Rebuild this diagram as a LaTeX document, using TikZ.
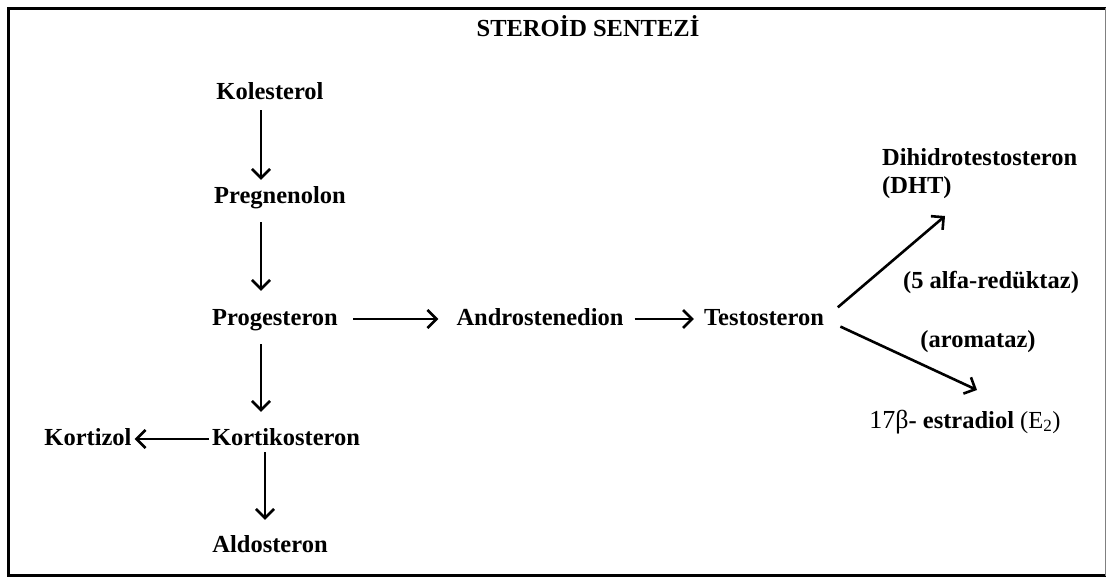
\documentclass[tikz,border=0pt]{standalone}
\usepackage{fontspec}
\setmainfont{Liberation Serif}
\usetikzlibrary{arrows, arrows.meta}

\tikzset{
  chem/.style={font=\bfseries\fontsize{24.5}{28}\selectfont, inner sep=0pt,
    text height=17pt, text depth=5pt, anchor=base},
  lab/.style={font=\bfseries\fontsize{24.5}{28}\selectfont, inner sep=0pt, anchor=base},
  flow/.style={->, line width=2.6pt}
}

\begin{document}
\begin{tikzpicture}[x=1pt, y=-1pt, >={Straight Barb[length=9pt,width=18pt]}]
    \useasboundingbox (0,0) rectangle (1107,577);
    % frame
    \draw[line width=3pt] (1106,8.5) -- (8.5,8.5) -- (8.5,575.5) -- (1106,575.5);
    \draw[gray, line width=1pt] (1105.5,8.5) -- (1105.5,575.5);
    \node[chem] (title) at (588,37) {STEROİD SENTEZİ};
    \node[chem] (kol) at (270,100) {Kolesterol};
    \node[chem] (preg) at (280,204) {Pregnenolon};
    \node[chem] (prog) at (275,325) {Progesteron};
    \node[chem] (kort) at (286,445) {Kortikosteron};
    \node[chem] (kortizol) at (88,445) {Kortizol};
    \node[chem] (aldo) at (270,552) {Aldosteron};
    \node[chem] (andro) at (540,325) {Androstenedion};
    \node[chem] (testo) at (764,325) {Testosteron};
    \node[lab, anchor=base west, align=left] (dht) at (882,194) {Dihidrotestosteron\\(DHT)};
    \node[lab] (red) at (991,288) {(5 alfa-redüktaz)};
    \node[lab] (arom) at (978,347) {(aromataz)};
    \node[lab] (e2) at (965,428) {\mdseries\fontsize{26}{28}\selectfont 17β\bfseries\fontsize{24.5}{28}\selectfont- estradiol \mdseries(E\textsubscript{2})};
    \coordinate (col) at (261,0);
    \coordinate (col2) at (265,0);
    \coordinate (dhttip) at (945,216);
    \coordinate (e2tip) at (977,390);
    % vertical arrows
    \draw[flow, shorten <=5pt, shorten >=7pt] (kol.south -| col) -- (preg.north -| col);
    \draw[flow, shorten <=13pt, shorten >=17pt] (preg.south -| col) -- (prog.north -| col);
    \draw[flow, shorten <=14pt, shorten >=16pt] (prog.south -| col) -- (kort.north -| col);
    \draw[flow, shorten <=2pt, shorten >=15pt] (kort.south -| col2) -- (aldo.north -| col2);
    % horizontal arrows
    \draw[flow, shorten <=3pt, shorten >=3pt] (kort) -- (kortizol);
    \draw[flow, shorten <=15pt, shorten >=18pt] (prog) -- (andro);
    \draw[flow, shorten <=11pt, shorten >=10pt] (andro) -- (testo);
    % branches
    \draw[flow, shorten <=18pt] (testo.east) -- (dhttip);
    \draw[flow, shorten <=18pt] (testo.east) -- (e2tip);
\end{tikzpicture}
\end{document}
